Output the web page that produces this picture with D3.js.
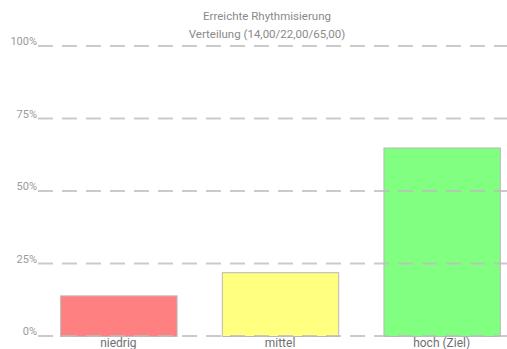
<!DOCTYPE html>
<html><head><meta charset="utf-8">
<script src="https://cdn.jsdelivr.net/npm/d3@7"></script>
<style>body{margin:0;background:#fff}svg{display:block}</style>
</head><body>
<svg id="c" width="507" height="349"></svg>
<script>
const categories = ["niedrig", "mittel", "hoch (Ziel)"];
const values = [14, 22, 65];
const colors = ["#ff8080", "#ffff80", "#80ff80"];
const yTicks = [0, 25, 50, 75, 100];
const titleLines = ["Erreichte Rhythmisierung", "Verteilung (14,00/22,00/65,00)"];

const svg = d3.select("#c");
const font = "Roboto, 'Open Sans', sans-serif";
const y = d3.scaleLinear().domain([0, 100]).range([336, 46]);
const x = d3.scaleBand().domain(categories).range([38, 522]).paddingInner(0.28).paddingOuter(0.137);

svg.append("g").selectAll("rect").data(values).join("rect")
  .attr("x", (d, i) => x(categories[i]) + 0.5)
  .attr("y", d => y(d) + 0.5)
  .attr("width", x.bandwidth())
  .attr("height", d => y(0) - y(d))
  .attr("fill", (d, i) => colors[i])
  .attr("stroke", "#b8b8b8").attr("stroke-width", 1);

const yAxis = d3.axisLeft(y).tickValues(yTicks).tickSize(0).tickFormat(d => d + "%");
const ga = svg.append("g").attr("transform", "translate(37,0)").call(yAxis);
ga.select(".domain").remove();
ga.selectAll("text").attr("font-family", font).attr("font-size", 11).attr("fill", "#9a9a9a")
  .attr("x", 0).attr("dy", "-0.1em");

svg.append("g").selectAll("line").data(yTicks).join("line")
  .attr("x1", 38).attr("x2", 507)
  .attr("y1", d => y(d)).attr("y2", d => y(d))
  .attr("stroke", "#bdbdbd").attr("stroke-opacity", 0.8).attr("stroke-width", 2)
  .attr("stroke-dasharray", "15,9");

const xAxis = d3.axisBottom(x).tickSize(0);
const gx = svg.append("g").attr("transform", "translate(0,336)").call(xAxis);
gx.select(".domain").remove();
gx.selectAll("text").attr("font-family", font).attr("font-size", 12).attr("fill", "#707070").attr("dy", "0.65em");

svg.append("g").selectAll("text").data(titleLines).join("text")
  .attr("x", 267).attr("y", (d, i) => 20 + i * 18)
  .attr("text-anchor", "middle").attr("font-family", font).attr("font-size", 11.5)
  .attr("fill", "#8a8a8a").text(d => d);
</script>
</body></html>
